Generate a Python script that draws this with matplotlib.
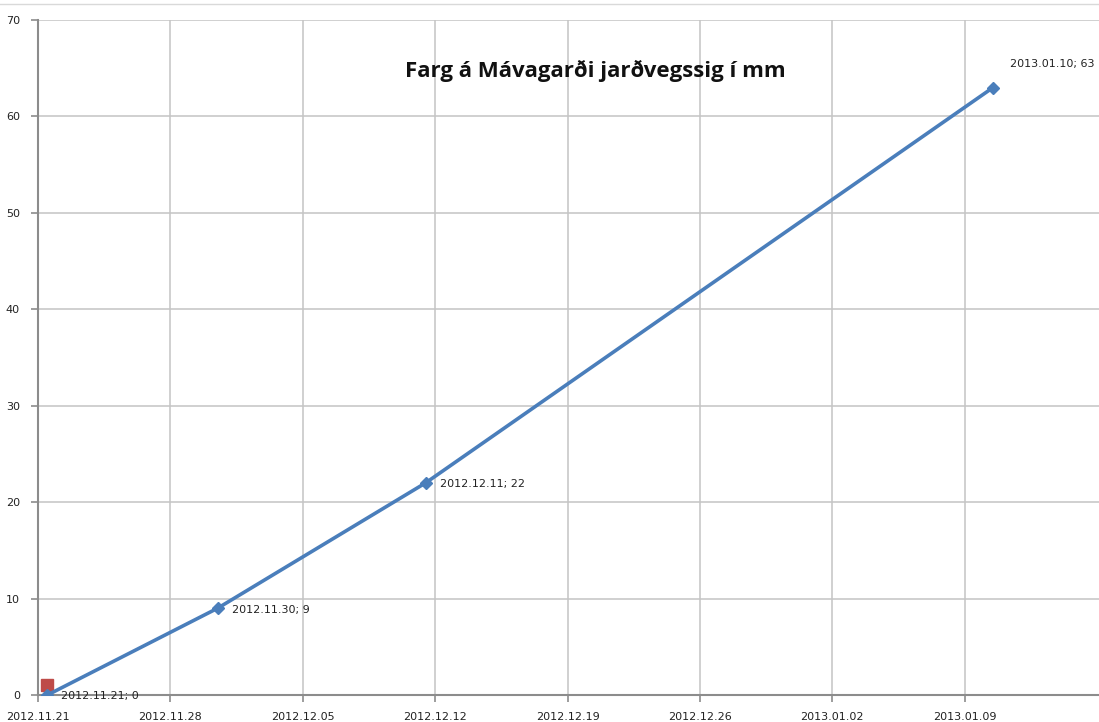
import pandas as pd
import matplotlib
matplotlib.use('Agg')
import matplotlib.pyplot as plt
import matplotlib.dates as mdates
from matplotlib.lines import Line2D

# measured settlement (mm)
dates = ['2012-11-21', '2012-11-30', '2012-12-11', '2013-01-10']
sig = [0, 9, 22, 63]
label_dates = ['2012.11.21', '2012.11.30', '2012.12.11', '2013.01.10']

# second series (single red point)
ref_dates = ['2012-11-21']
ref_vals = [1]

tick_dates = ['2012-11-21', '2012-11-28', '2012-12-05', '2012-12-12',
              '2012-12-19', '2012-12-26', '2013-01-02', '2013-01-09']

# Excel date axis draws points in the middle of the day
half_day = pd.Timedelta(hours=12)
x = pd.to_datetime(dates) + half_day
x_ref = pd.to_datetime(ref_dates) + half_day
ticks = pd.to_datetime(tick_dates)

fig = plt.figure(figsize=(10.99, 7.22), dpi=100)
ax = fig.add_axes([38 / 1099, 27 / 722, 1 - 38 / 1099, 675 / 722])

ax.plot(x, sig, color='#4a7ebb', lw=2.6, marker='D', ms=6.5, zorder=3)
ax.plot(x_ref, ref_vals, color='#be4b48', ls='none', marker='s', ms=9, zorder=2)

# data labels
offsets = [(10, -1), (10, -1), (10, -1), (12, 17)]
for xi, yi, lab, off in zip(x, sig, label_dates, offsets):
    ax.annotate(f'{lab}; {yi}', (xi, yi), xytext=off, textcoords='offset points',
                fontsize=8, color='#222222', va='center', ha='left', annotation_clip=False)

start = ticks[0]
ax.set_xlim(start, start + pd.Timedelta(days=56.1))
ax.set_ylim(0, 70)
ax.set_yticks(range(0, 71, 10))
ax.set_xticks(ticks)
ax.xaxis.set_major_formatter(mdates.DateFormatter('%Y.%m.%d'))

ax.grid(True, color='#c4c4c4', lw=1.1)
ax.set_axisbelow(True)
for s in ['top', 'right']:
    ax.spines[s].set_visible(False)
for s in ['left', 'bottom']:
    ax.spines[s].set_color('#8c8c8c')
    ax.spines[s].set_linewidth(1.5)
ax.tick_params(axis='both', color='#8c8c8c', width=1.2, length=5, labelsize=8,
               labelcolor='#222222')
ax.tick_params(axis='y', pad=8)
ax.tick_params(axis='x', pad=7)

ax.text(0.525, 0.925, 'Farg á Mávagarði jarðvegssig í mm', transform=ax.transAxes,
        ha='center', va='center', fontsize=16, fontweight='bold',
        family=['Open Sans', 'DejaVu Sans'], color='#111111')

# chart border line at the top
fig.add_artist(Line2D([0, 1], [1 - 4 / 722, 1 - 4 / 722], color='#d9d9d9', lw=1))

fig.savefig('out.png', dpi=100)
